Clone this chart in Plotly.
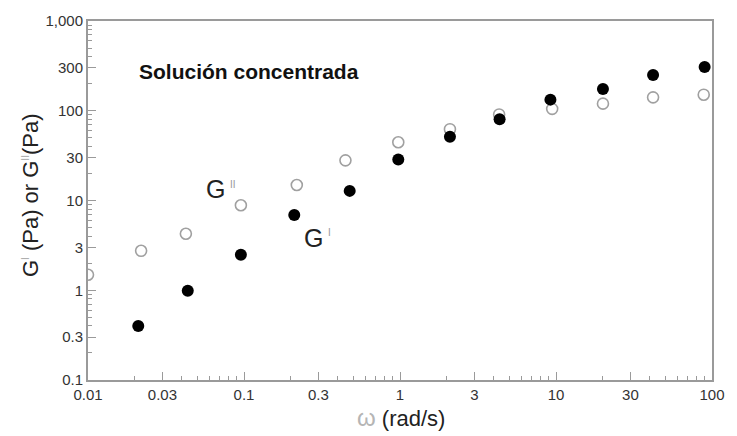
import plotly.graph_objects as go

# Data
omega_g2 = [0.0100, 0.0219, 0.0424, 0.0955, 0.218, 0.447, 0.975, 2.09, 4.32, 9.45, 20.0, 41.9, 88.5]
g2_values = [1.49, 2.75, 4.26, 8.86, 14.9, 28.0, 44.6, 62.3, 91.0, 105, 120, 141, 151]

omega_g1 = [0.0210, 0.0436, 0.0955, 0.210, 0.476, 0.975, 2.09, 4.35, 9.21, 20.0, 41.9, 89.7]
g1_values = [0.40, 0.99, 2.48, 6.88, 12.8, 28.6, 51.3, 80.2, 133, 175, 250, 308]

x_tickvals = [0.01, 0.03, 0.1, 0.3, 1, 3, 10, 30, 100]
x_ticktext = ["0.01", "0.03", "0.1", "0.3", "1", "3", "10", "30", "100"]
y_tickvals = [0.1, 0.3, 1, 3, 10, 30, 100, 300, 1000]
y_ticktext = ["0.1", "0.3", "1", "3", "10", "30", "100", "300", "1,000"]

x_minor = [k * 10.0 ** n for n in range(-2, 2) for k in range(2, 10) if k != 3]
y_minor = [k * 10.0 ** n for n in range(-1, 3) for k in range(2, 10) if k != 3]

FONT = "Liberation Sans, Arial, sans-serif"
AX = "#9a9a9a"
TXT = "#333333"

fig = go.Figure()
fig.add_trace(go.Scatter(
    x=omega_g2, y=g2_values, mode="markers", name="G''",
    marker=dict(size=11, color="white", line=dict(color="#a0a0a0", width=1.6)),
))
fig.add_trace(go.Scatter(
    x=omega_g1, y=g1_values, mode="markers", name="G'",
    marker=dict(size=12, color="black", line=dict(color="black", width=0)),
))

axis_common = dict(
    type="log", showgrid=False, zeroline=False,
    showline=True, linecolor=AX, linewidth=2, mirror=True,
    ticks="inside", ticklen=8, tickwidth=1, tickcolor=AX,
    tickfont=dict(family=FONT, size=15, color=TXT),
)

fig.update_xaxes(
    **axis_common, range=[-2, 2], tickmode="array",
    tickvals=x_tickvals, ticktext=x_ticktext,
    minor=dict(tickvals=x_minor, ticks="inside", ticklen=4, tickcolor=AX, tickwidth=1),
)
fig.update_yaxes(
    **axis_common, range=[-1, 3], tickmode="array",
    tickvals=y_tickvals, ticktext=y_ticktext,
    minor=dict(tickvals=y_minor, ticks="inside", ticklen=4, tickcolor=AX, tickwidth=1),
)

L, R, T, B = 88, 14, 15, 56
PW, PH = 737 - L - R, 436 - T - B


def px(xp):
    return (xp - L) / PW


def py(yp):
    return (436 - B - yp) / PH


annotations = [
    dict(text="<b>Solución concentrada</b>", x=px(138), y=py(66), xanchor="left", yanchor="middle",
         font=dict(family=FONT, size=21, color="#111111")),
    dict(text="G", x=px(206), y=py(186), xanchor="left", yanchor="middle",
         font=dict(family=FONT, size=25, color="#222222")),
    dict(text="II", x=px(230), y=py(181), xanchor="left", yanchor="middle",
         font=dict(family=FONT, size=10, color="#999999")),
    dict(text="G", x=px(306), y=py(236), xanchor="left", yanchor="middle",
         font=dict(family=FONT, size=25, color="#222222")),
    dict(text="I", x=px(330), y=py(230), xanchor="left", yanchor="middle",
         font=dict(family=FONT, size=10, color="#999999")),
    dict(text='<span style="color:#b5b5b5;font-size:24px">ω</span> (rad/s)',
         x=px(407), y=py(418), xanchor="center", yanchor="middle",
         font=dict(family=FONT, size=22, color="#222222")),
    dict(text='G<sup><span style="color:#aaaaaa;font-size:10px">I</span></sup> (Pa) or '
              'G<sup><span style="color:#aaaaaa;font-size:10px">II</span></sup>(Pa)',
         x=px(29), y=py(192), xanchor="center", yanchor="middle", textangle=-90,
         font=dict(family=FONT, size=22, color="#222222")),
]
for a in annotations:
    a.update(xref="paper", yref="paper", showarrow=False)

fig.update_layout(
    width=737, height=436,
    margin=dict(l=L, r=R, t=T, b=B),
    paper_bgcolor="white", plot_bgcolor="white",
    showlegend=False,
    annotations=annotations,
)

fig.write_html("out.html")
